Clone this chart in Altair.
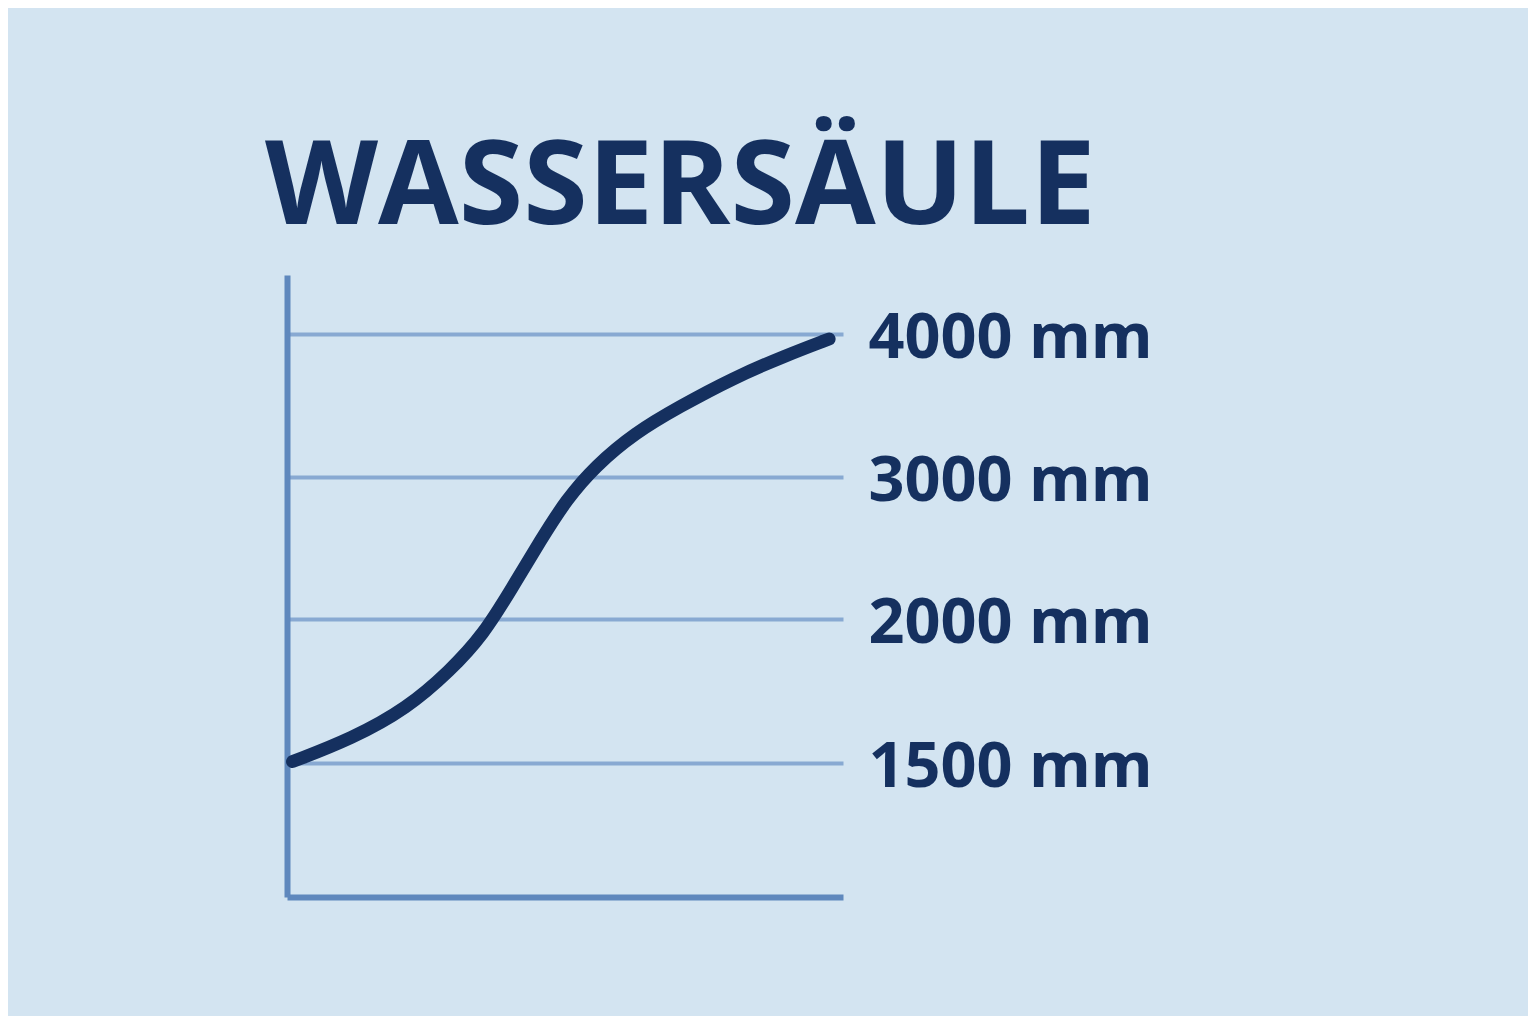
import altair as alt
import pandas as pd

title_text = "WASSERSÄULE"

# y tick values (mm) and their labels
tick_values = [1500, 2000, 3000, 4000]
tick_labels = ["1500 mm", "2000 mm", "3000 mm", "4000 mm"]

# curve: x in % of the horizontal axis, y in mm
curve_x = [1.0, 11.7, 21.6, 29.3, 35.3, 40.5, 45.7, 50.2, 55.4, 62.6, 70.5, 80.2, 89.9, 97.5]
curve_mm = [1505, 1585, 1690, 1820, 1945, 2220, 2560, 2838, 3075, 3310, 3490, 3692, 3853, 3965]

BG = "#d3e4f1"
NAVY = "#15305f"
AXIS = "#5f88bd"
GRID = "#88a9d2"

W, H = 556, 622

df = pd.DataFrame({"x": curve_x, "mm": curve_mm})

label_expr = " : ".join(
    [f"datum.value == {v} ? '{l}'" for v, l in zip(tick_values, tick_labels)]
) + " : ''"

# evenly spaced tick rows (stylised, not linear in mm)
y_scale = alt.Scale(
    type="linear",
    domain=[1035, 1500, 2000, 3000, 4000, 4410],
    range=[H, 488, 344, 202, 59, 0],
    nice=False,
    zero=False,
)
x_scale = alt.Scale(domain=[0, 100], nice=False, zero=False)

base = alt.Chart(df)

left = base.mark_line(
    color=NAVY, strokeWidth=13, strokeCap="round", interpolate="basis"
).encode(
    x=alt.X("x:Q", scale=x_scale, axis=alt.Axis(
        orient="bottom", domain=True, domainColor=AXIS, domainWidth=6,
        labels=False, ticks=False, grid=False, title=None)),
    y=alt.Y("mm:Q", scale=y_scale, axis=alt.Axis(
        orient="left", domain=True, domainColor=AXIS, domainWidth=6,
        labels=False, ticks=False, grid=False, title=None)),
)

right = base.mark_line(opacity=0).encode(
    x=alt.X("x:Q", scale=x_scale),
    y=alt.Y("mm:Q", scale=y_scale, axis=alt.Axis(
        orient="right", values=tick_values, labelExpr=label_expr,
        domain=False, ticks=False, grid=True, gridColor=GRID, gridWidth=4,
        gridOpacity=1, labelFont="Open Sans", labelFontSize=63,
        labelFontWeight="bold", labelColor=NAVY, labelPadding=25,
        labelBaseline="middle", labelAlign="left", labelLimit=0,
        labelOffset=4, title=None)),
)

chart = alt.layer(right, left).resolve_axis(y="independent").properties(
    width=W,
    height=H,
    autosize=alt.AutoSizeParams(type="none"),
    padding={"left": 279, "top": 267, "right": 685, "bottom": 119},
    background=BG,
    title=alt.TitleParams(
        text=title_text, anchor="start", frame="group", font="Open Sans",
        fontSize=117, fontWeight="bold", color=NAVY, dx=-22, offset=40,
        dy=106, baseline="alphabetic",
    ),
).configure_view(stroke=None)

chart.save("out.html", embed_options={"renderer": "svg", "actions": False})
